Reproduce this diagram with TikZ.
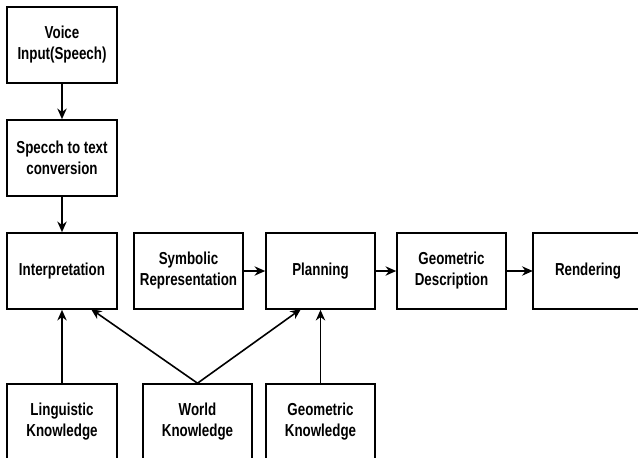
\documentclass[tikz,border=0pt]{standalone}
\usepackage{fontspec}
\setmainfont{Liberation Sans}[FakeStretch=0.77]
\usetikzlibrary{arrows.meta}
\tikzset{
  lbl/.style={align=center, inner sep=0pt, font=\fontsize{13pt}{15.75pt}\selectfont\bfseries},
  box/.style={lbl, draw, line width=1.2pt, minimum width=110*0.75pt, minimum height=76*0.75pt},
  openbox/.style={lbl, minimum width=110*0.75pt, minimum height=76*0.75pt},
  conn/.style={line width=1.2pt, -{Stealth[length=8pt,width=7pt]}}
}
\begin{document}
\begin{tikzpicture}[x=0.75pt,y=-0.75pt]
\useasboundingbox (0,0) rectangle (638,457);
\node[box] (voice) at (62,45) {Voice\\Input(Speech)};
\node[box] (speech) at (62,158) {Specch to text\\conversion};
\node[box] (interp) at (62,271) {Interpretation};
\node[box, minimum width=109*0.75pt] (symb) at (188.5,271) {Symbolic\\Representation};
\node[box, minimum width=109*0.75pt] (plan) at (320.5,271) {Planning};
\node[box, minimum width=109*0.75pt] (geod) at (451.5,271) {Geometric\\Description};
\node[openbox] (rend) at (588,271) {Rendering};
\draw[line width=1.2pt] (rend.north east) -- (rend.north west) -- (rend.south west) -- (rend.south east);
\node[box] (ling) at (62,422) {Linguistic\\Knowledge};
\node[box, minimum width=109*0.75pt] (world) at (197.5,422) {World\\Knowledge};
\node[box, minimum width=109*0.75pt] (geok) at (320.5,422) {Geometric\\Knowledge};
\coordinate (iw) at (91,309);
\coordinate (pw) at (301,309);
\draw[conn] (voice) -- (speech);
\draw[conn] (speech) -- (interp);
\draw[conn] (ling) -- (interp);
\draw[conn] (world.north) -- (iw);
\draw[conn] (world.north) -- (pw);
\draw[conn] (geok) -- (plan);
\draw[conn] (symb) -- (plan);
\draw[conn] (plan) -- (geod);
\draw[conn] (geod) -- (rend);
\end{tikzpicture}
\end{document}
